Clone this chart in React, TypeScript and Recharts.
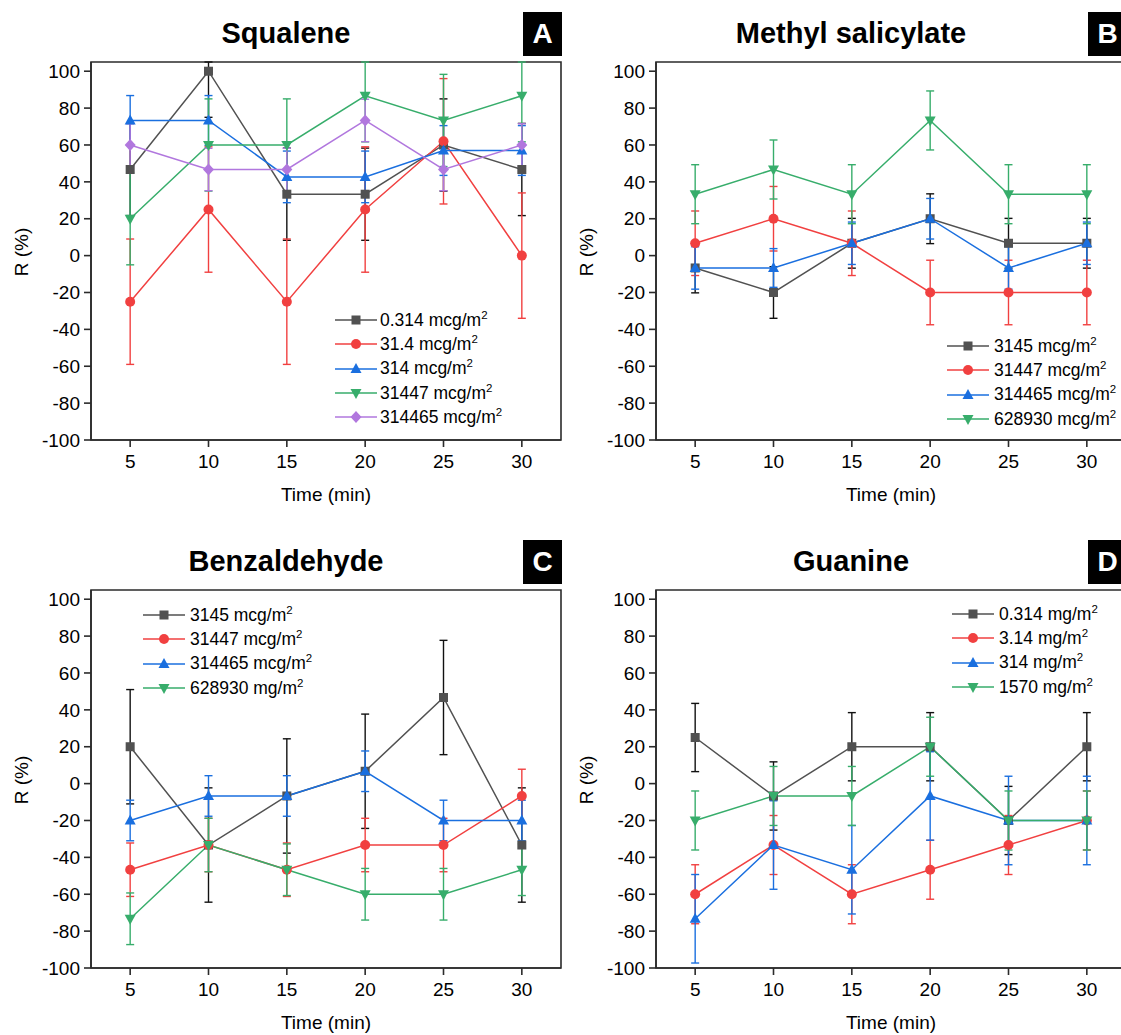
import React from 'react'
import { LineChart, Line, XAxis, YAxis, ErrorBar, Legend, ReferenceArea } from 'recharts'

const FONT = '"Liberation Sans", Arial, Helvetica, sans-serif'

// shared axes
const TIMES = [5, 10, 15, 20, 25, 30]
const X_TICKS = [5, 10, 15, 20, 25, 30]
const Y_TICKS = [-100, -80, -60, -40, -20, 0, 20, 40, 60, 80, 100]
const X_DOMAIN = [2.5, 32.5]
const Y_DOMAIN = [-100, 105]

// A - Squalene
const SQUALENE_LABELS = ['0.314 mcg/m', '31.4 mcg/m', '314 mcg/m', '31447 mcg/m', '314465 mcg/m']
const squalene0314 = [46.7, 100, 33.3, 33.3, 60, 46.7]
const squalene0314Err = [25, 25, 25, 25, 25, 25]
const squalene314a = [-25, 25, -25, 25, 62, 0]
const squalene314aErr = [34, 34, 34, 34, 34, 34]
const squalene314 = [73.3, 73.3, 42.7, 42.7, 57, 57]
const squalene314Err = [13.5, 13.5, 14, 14, 13.5, 13.5]
const squalene31447 = [20, 60, 60, 86.7, 73.3, 86.7]
const squalene31447Err = [25, 25, 25, 25, 25, 25]
const squalene314465 = [60, 46.7, 46.7, 73.3, 46.7, 60]
const squalene314465Err = [11.5, 11.5, 11.5, 11.5, 11.5, 11.5]

// B - Methyl salicylate
const METHYL_LABELS = ['3145 mcg/m', '31447 mcg/m', '314465 mcg/m', '628930 mcg/m']
const methyl3145 = [-6.7, -20, 6.7, 20, 6.7, 6.7]
const methyl3145Err = [13.5, 14, 13.5, 13.5, 13.5, 13.5]
const methyl31447 = [6.7, 20, 6.7, -20, -20, -20]
const methyl31447Err = [17.5, 17.5, 17.5, 17.5, 17.5, 17.5]
const methyl314465 = [-6.7, -6.7, 6.7, 20, -6.7, 6.7]
const methyl314465Err = [11.5, 10.5, 11.5, 11, 11.5, 11.5]
const methyl628930 = [33.3, 46.7, 33.3, 73.3, 33.3, 33.3]
const methyl628930Err = [16, 16, 16, 16, 16, 16]

// C - Benzaldehyde
const BENZ_LABELS = ['3145 mcg/m', '31447 mcg/m', '314465 mcg/m', '628930 mg/m']
const benz3145 = [20, -33.3, -6.7, 6.7, 46.7, -33.3]
const benz3145Err = [31, 31, 31, 31, 31, 31]
const benz31447 = [-46.7, -33.3, -46.7, -33.3, -33.3, -6.7]
const benz31447Err = [14.5, 14.5, 14.5, 14.5, 14.5, 14.5]
const benz314465 = [-20, -6.7, -6.7, 6.7, -20, -20]
const benz314465Err = [11, 11, 11, 11, 11, 11]
const benz628930 = [-73.3, -33.3, -46.7, -60, -60, -46.7]
const benz628930Err = [14, 14.5, 14, 14, 14, 14]

// D - Guanine
const GUANINE_LABELS = ['0.314 mg/m', '3.14 mg/m', '314 mg/m', '1570 mg/m']
const guanine0314 = [25, -6.7, 20, 20, -20, 20]
const guanine0314Err = [18.5, 18.5, 18.5, 18.5, 18.5, 18.5]
const guanine314a = [-60, -33.3, -60, -46.7, -33.3, -20]
const guanine314aErr = [16, 16, 16, 16, 16, 16]
const guanine314 = [-73.3, -33.3, -46.7, -6.7, -20, -20]
const guanine314Err = [24, 24, 24, 24, 24, 24]
const guanine1570 = [-20, -6.7, -6.7, 20, -20, -20]
const guanine1570Err = [16, 16, 16, 16, 16, 16]

type Shape = 'square' | 'circle' | 'triangle' | 'invTriangle' | 'diamond'

// Origin-like palette
const STYLES: { color: string; errColor: string; shape: Shape }[] = [
  { color: '#515151', errColor: '#111111', shape: 'square' },
  { color: '#F14040', errColor: '#F14040', shape: 'circle' },
  { color: '#1A6FDF', errColor: '#1A6FDF', shape: 'triangle' },
  { color: '#37AD6B', errColor: '#37AD6B', shape: 'invTriangle' },
  { color: '#B177DE', errColor: '#B177DE', shape: 'diamond' },
]

interface Series {
  label: string
  values: number[]
  errors: number[]
}

function Marker({ cx, cy, shape, color }: { cx?: number; cy?: number; shape: Shape; color: string }) {
  if (cx == null || cy == null) return null
  switch (shape) {
    case 'square':
      return <rect x={cx - 4.5} y={cy - 4.5} width={9} height={9} fill={color} />
    case 'circle':
      return <circle cx={cx} cy={cy} r={5} fill={color} />
    case 'triangle':
      return <polygon points={`${cx},${cy - 6} ${cx + 5.5},${cy + 4} ${cx - 5.5},${cy + 4}`} fill={color} />
    case 'invTriangle':
      return <polygon points={`${cx},${cy + 6} ${cx + 5.5},${cy - 4} ${cx - 5.5},${cy - 4}`} fill={color} />
    default:
      return <polygon points={`${cx},${cy - 6} ${cx + 5.5},${cy} ${cx},${cy + 6} ${cx - 5.5},${cy}`} fill={color} />
  }
}

const PANEL_W = 600
const PANEL_H = 520

interface PanelProps {
  x: number
  y: number
  title: string
  letter: string
  series: Series[]
  legendX: number
  legendY: number
  legendGap: number
}

function Panel({ x, y, title, letter, series, legendX, legendY, legendGap }: PanelProps) {
  const data = TIMES.map((t, i) => {
    const row: any = { time: t }
    series.forEach((s, k) => {
      const v = s.values[i]
      const e = s.errors[i]
      row['v' + k] = v
      // error bars end at the frame, like the original
      row['e' + k] = [Math.min(e, v - Y_DOMAIN[0]), Math.min(e, Y_DOMAIN[1] - v)]
    })
    return row
  })

  const renderLegend = () => (
    <div style={{ fontFamily: FONT, fontSize: 17.5, color: '#000' }}>
      {series.map((s, k) => (
        <div key={s.label} style={{ display: 'flex', alignItems: 'center', height: 24.3, whiteSpace: 'nowrap' }}>
          <svg width={42} height={14} style={{ display: 'block' }}>
            <line x1={0} x2={42} y1={7} y2={7} stroke={STYLES[k].color} strokeWidth={1.5} />
            <Marker cx={21} cy={7} shape={STYLES[k].shape} color={STYLES[k].color} />
          </svg>
          <span style={{ marginLeft: legendGap }}>
            {s.label}
            <span style={{ fontSize: 11.5, position: 'relative', top: -7 }}>2</span>
          </span>
        </div>
      ))}
    </div>
  )

  const tickStyle = { fill: '#000', fontSize: 19, fontFamily: FONT }

  return (
    <div style={{ position: 'absolute', left: x, top: y, width: PANEL_W, height: PANEL_H }}>
      <div
        style={{
          position: 'absolute', left: 286, top: 33, transform: 'translate(-50%, -50%)',
          fontFamily: FONT, fontWeight: 'bold', fontSize: 29, whiteSpace: 'nowrap', color: '#000',
        }}
      >
        {title}
      </div>
      <div
        style={{
          position: 'absolute', left: 523, top: 12, width: 39, height: 44, background: '#000', color: '#fff',
          fontFamily: FONT, fontWeight: 'bold', fontSize: 28, lineHeight: '44px', textAlign: 'center',
        }}
      >
        {letter}
      </div>
      <div
        style={{
          position: 'absolute', left: 22, top: 252, transform: 'translate(-50%, -50%) rotate(-90deg)',
          fontFamily: FONT, fontSize: 19, whiteSpace: 'nowrap', color: '#000',
        }}
      >
        R (%)
      </div>
      <div
        style={{
          position: 'absolute', left: 326, top: 495, transform: 'translate(-50%, -50%)',
          fontFamily: FONT, fontSize: 19, whiteSpace: 'nowrap', color: '#000',
        }}
      >
        Time (min)
      </div>
      <LineChart width={PANEL_W} height={PANEL_H} data={data} margin={{ top: 62, right: 39, bottom: 40, left: 0 }}>
        <XAxis
          dataKey="time"
          type="number"
          domain={X_DOMAIN}
          ticks={X_TICKS}
          allowDataOverflow
          height={40}
          tickSize={7}
          tickMargin={8}
          tick={tickStyle}
          stroke="#2b2b2b"
          strokeWidth={1.6}
        />
        <YAxis
          type="number"
          domain={Y_DOMAIN}
          ticks={Y_TICKS}
          allowDataOverflow
          width={91}
          tickSize={7}
          tickMargin={4}
          tick={tickStyle}
          stroke="#2b2b2b"
          strokeWidth={1.6}
        />
        {/* closed frame */}
        <ReferenceArea
          x1={X_DOMAIN[0]}
          x2={X_DOMAIN[1]}
          y1={Y_DOMAIN[0]}
          y2={Y_DOMAIN[1]}
          fill="none"
          fillOpacity={0}
          stroke="#2b2b2b"
          strokeWidth={1.6}
        />
        <Legend
          layout="vertical"
          align="center"
          verticalAlign="middle"
          content={renderLegend}
          wrapperStyle={{ left: legendX, top: legendY, width: 'auto', height: 'auto' }}
        />
        {series.map((s, k) => (
          <Line
            key={s.label}
            dataKey={'v' + k}
            name={s.label}
            type="linear"
            stroke={STYLES[k].color}
            strokeWidth={1.5}
            isAnimationActive={false}
            dot={(p: any) => <Marker key={'d' + k + '-' + p.index} cx={p.cx} cy={p.cy} shape={STYLES[k].shape} color={STYLES[k].color} />}
            activeDot={false}
          >
            <ErrorBar dataKey={'e' + k} direction="y" width={4} stroke={STYLES[k].errColor} strokeWidth={1.4} isAnimationActive={false} />
          </Line>
        ))}
      </LineChart>
    </div>
  )
}

const mk = (labels: string[], values: number[][], errors: number[][]): Series[] =>
  labels.map((label, i) => ({ label, values: values[i], errors: errors[i] }))

export default function App() {
  const squalene = mk(
    SQUALENE_LABELS,
    [squalene0314, squalene314a, squalene314, squalene31447, squalene314465],
    [squalene0314Err, squalene314aErr, squalene314Err, squalene31447Err, squalene314465Err]
  )
  const methyl = mk(
    METHYL_LABELS,
    [methyl3145, methyl31447, methyl314465, methyl628930],
    [methyl3145Err, methyl31447Err, methyl314465Err, methyl628930Err]
  )
  const benz = mk(
    BENZ_LABELS,
    [benz3145, benz31447, benz314465, benz628930],
    [benz3145Err, benz31447Err, benz314465Err, benz628930Err]
  )
  const guanine = mk(
    GUANINE_LABELS,
    [guanine0314, guanine314a, guanine314, guanine1570],
    [guanine0314Err, guanine314aErr, guanine314Err, guanine1570Err]
  )

  return (
    <div style={{ position: 'absolute', left: 0, top: 0, width: 1121, height: 1035, overflow: 'hidden', background: '#fff' }}>
      <Panel x={0} y={0} title="Squalene" letter="A" series={squalene} legendX={335} legendY={308} legendGap={3} />
      <Panel x={565} y={0} title="Methyl salicylate" letter="B" series={methyl} legendX={382} legendY={334} legendGap={5} />
      <Panel x={0} y={528} title="Benzaldehyde" letter="C" series={benz} legendX={143} legendY={75} legendGap={5} />
      <Panel x={565} y={528} title="Guanine" letter="D" series={guanine} legendX={387} legendY={74} legendGap={5} />
    </div>
  )
}
